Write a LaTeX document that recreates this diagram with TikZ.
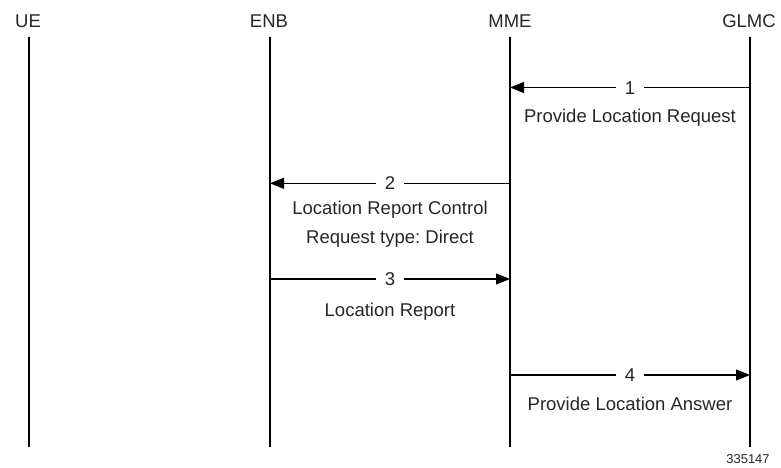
\documentclass[tikz,border=0pt]{standalone}
\usepackage{fontspec}
\setmainfont{Liberation Sans}
\usepackage{tikz}
\usetikzlibrary{arrows.meta, positioning}
\frenchspacing

\begin{document}
\begin{tikzpicture}[x=1pt,y=-1pt,
  font=\fontsize{18.5}{22}\selectfont,
  head/.style={inner sep=0pt, text height=13.2pt, text depth=0pt, text=black!85},
  life/.style={line width=1.1pt},
  msg/.style={line width=1.1pt, -{Triangle[length=14pt,width=11pt]}},
  num/.style={fill=white, inner xsep=9pt, inner ysep=0pt, text height=13.2pt, text depth=0pt, text=black!85},
  lbl/.style={inner sep=0pt, text height=13.2pt, text depth=0pt, text=black!85}]
\useasboundingbox (0,0) rectangle (781,468);
% heads
\node[head] (ue) at (28,20.5) {UE};
\node[head] (enb) at (269,20.5) {ENB};
\node[head] (mme) at (510,20.5) {MME};
\node[head] (glmc) at (749,20.5) {GLMC};
% lifelines
\coordinate (ue-t) at (29,37);   \coordinate (ue-b) at (29,447);
\coordinate (enb-t) at (270,37); \coordinate (enb-b) at (270,447);
\coordinate (mme-t) at (510,37); \coordinate (mme-b) at (510,447);
\coordinate (glmc-t) at (750,37); \coordinate (glmc-b) at (750,447);
\draw[life] (ue-t) -- (ue-b);
\draw[life] (enb-t) -- (enb-b);
\draw[life] (mme-t) -- (mme-b);
\draw[life] (glmc-t) -- (glmc-b);
% messages
\coordinate (glmc-1) at (750,87.5); \coordinate (mme-1) at (510,87.5);
\draw[msg] (glmc-1) -- node[num] (n1) {1} (mme-1);
\node[lbl] (t1) at (630,115.5) {Provide Location Request};
\coordinate (mme-2) at (510,183.3); \coordinate (enb-2) at (270,183.3);
\draw[msg] (mme-2) -- node[num] (n2) {2} (enb-2);
\node[lbl] (t2) at (390,208.3) {Location Report Control};
\node[lbl] (t2b) at (390,236.7) {Request type: Direct};
\coordinate (enb-3) at (270,279); \coordinate (mme-3) at (510,279);
\draw[msg] (enb-3) -- node[num] (n3) {3} (mme-3);
\node[lbl] (t3) at (390,309.7) {Location Report};
\coordinate (mme-4) at (510,375); \coordinate (glmc-4) at (750,375);
\draw[msg] (mme-4) -- node[num] (n4) {4} (glmc-4);
\node[lbl] (t4) at (630,404) {Provide Location Answer};
% figure number
\node[inner sep=0pt, text height=9.2pt, text depth=0pt, text=black!85,
  font=\fontsize{12.9}{15}\selectfont] (fig) at (748,459) {335147};
\end{tikzpicture}
\end{document}
